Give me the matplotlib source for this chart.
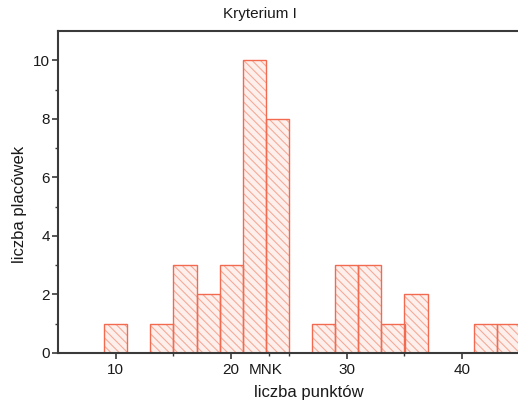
import matplotlib

matplotlib.use("Agg")
import matplotlib.pyplot as plt
from matplotlib.transforms import blended_transform_factory

# histogram bins (centre of each 2-point wide bin) and number of schools
BIN_CENTERS = [10, 14, 16, 18, 20, 22, 24, 28, 30, 32, 34, 36, 42, 44]
COUNTS = [1, 1, 3, 2, 3, 10, 8, 1, 3, 3, 1, 2, 1, 1]
BIN_WIDTH = 2
MNK_VALUE = 23.3

X_TICKS = [10, 20, 30, 40]
X_MINOR = [15, 25, 35]
Y_TICKS = [0, 2, 4, 6, 8, 10]
Y_MINOR = [1, 3, 5, 7, 9]

EDGE = "#f26a50"
HATCH = "#f5aa98"
FILL = "#fdf0ec"
AXIS = "#3a3a3a"
TEXT = "#1a1a1a"

plt.rcParams["font.family"] = ["Liberation Sans", "DejaVu Sans"]
plt.rcParams["hatch.linewidth"] = 0.8

W, H = 518, 405
fig = plt.figure(figsize=(W / 100, H / 100), dpi=100)
px = 11.55  # pixels per point on the x axis
xmin, xmax = 5, 46
ax_w = (xmax - xmin) * px
ax = fig.add_axes([58 / W, 52 / H, ax_w / W, 322 / H])

# hatched fill, then the outline on top
ax.bar(BIN_CENTERS, COUNTS, width=BIN_WIDTH, color=FILL, edgecolor=HATCH,
       hatch="\\\\\\\\", linewidth=0, zorder=2)
ax.bar(BIN_CENTERS, COUNTS, width=BIN_WIDTH, fill=False, edgecolor=EDGE,
       linewidth=1.0, zorder=3)

ax.set_xlim(xmin, xmax)
ax.set_ylim(0, 11)
ax.set_xticks(X_TICKS)
ax.set_xticks(X_MINOR + [MNK_VALUE], minor=True)
ax.set_yticks(Y_TICKS)
ax.set_yticks(Y_MINOR, minor=True)

for side in ("left", "bottom", "top", "right"):
    ax.spines[side].set_color(AXIS)
    ax.spines[side].set_linewidth(1.5)
    ax.spines[side].set_zorder(4)

ax.tick_params(which="major", direction="out", length=4, width=1.2,
               color=AXIS, labelsize=11, labelcolor=TEXT, pad=2)
ax.tick_params(which="minor", direction="out", length=2.5, width=1.0, color=AXIS)
ax.tick_params(axis="x", which="major", pad=3)

trans = blended_transform_factory(ax.transData, ax.transAxes)
ax.text(MNK_VALUE - 0.35, -0.052, "MNK", transform=trans, ha="center", va="center",
        fontsize=11, color=TEXT)

ax.set_xlabel("liczba punktów", fontsize=12, color=TEXT)
ax.xaxis.set_label_coords((309 - 58) / ax_w, -0.1)
ax.set_ylabel("liczba placówek", fontsize=12, color=TEXT)
ax.yaxis.set_label_coords(-0.066, 0.46)

fig.text(260 / W, 1 - 14 / H, "Kryterium I", ha="center", va="center",
         fontsize=11, color=TEXT)

fig.savefig("out.png", dpi=100)
